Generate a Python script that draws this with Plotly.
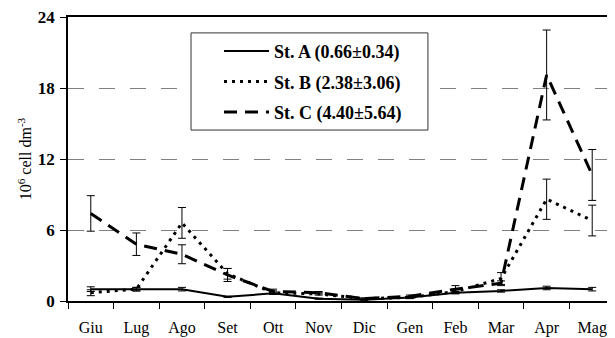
import plotly.graph_objects as go

months = ["Giu", "Lug", "Ago", "Set", "Ott", "Nov", "Dic", "Gen", "Feb", "Mar", "Apr", "Mag"]

st_a = [1.0, 1.0, 1.0, 0.35, 0.65, 0.2, 0.1, 0.3, 0.7, 0.85, 1.1, 1.0]
st_a_err = [0.2, 0.15, 0.15, 0.05, 0.1, 0.05, 0.05, 0.05, 0.1, 0.1, 0.15, 0.15]

st_b = [0.7, 1.0, 6.6, 2.3, 0.7, 0.6, 0.2, 0.3, 0.8, 1.9, 8.6, 6.8]
st_b_err = [0.25, 0.15, 1.3, 0.45, 0.15, 0.1, 0.05, 0.1, 0.15, 0.5, 1.7, 1.3]

st_c = [7.4, 4.8, 3.95, 2.2, 0.8, 0.7, 0.2, 0.4, 1.0, 1.5, 19.1, 10.65]
st_c_err = [1.5, 0.95, 0.8, 0.55, 0.2, 0.1, 0.05, 0.1, 0.3, 0.2, 3.8, 2.15]

names = ["St. A (0.66±0.34)", "St. B (2.38±3.06)", "St. C (4.40±5.64)"]
y_ticks = [0, 6, 12, 18, 24]

FONT = "Liberation Serif"

series = [
    (names[0], st_a, st_a_err, dict(color="black", width=2, dash="solid")),
    (names[1], st_b, st_b_err, dict(color="black", width=3, dash="3px,5px")),
    (names[2], st_c, st_c_err, dict(color="black", width=3, dash="13px,8px")),
]

fig = go.Figure()
for i, (nm, vals, errs, ln) in enumerate(series):
    fig.add_trace(go.Scatter(
        x=months, y=vals, name=nm, mode="lines", line=ln,
        legendgroup=f"g{i}",
        error_y=dict(type="data", array=errs, visible=True, color="black",
                     thickness=1, width=4),
    ))

# legend frame (drawn as a shape so it can be wider than the entries)
fig.add_shape(type="rect", xref="paper", yref="paper",
              x0=0.2249, x1=0.658, y0=0.602, y1=0.944,
              line=dict(color="#333333", width=1), fillcolor="white", layer="above")

# The page body has an 8px default margin, so the figure is sized/offset to compensate.
fig.update_layout(
    width=607, height=330,
    margin=dict(l=60, r=0, t=9, b=37),
    paper_bgcolor="white", plot_bgcolor="white",
    font=dict(family=FONT, color="black"),
    showlegend=True,
    legend=dict(
        x=0.2249, y=0.944, xanchor="left", yanchor="top",
        bgcolor="rgba(0,0,0,0)", borderwidth=0,
        font=dict(family=FONT, size=18, color="black", weight="bold"),
        tracegroupgap=4, traceorder="grouped", indentation=28, itemwidth=45,
    ),
    xaxis=dict(
        type="category", range=[-0.5, 11.5], automargin=False,
        showline=True, linecolor="black", linewidth=1.5, mirror=True,
        ticks="outside", tickson="boundaries", ticklen=6, tickcolor="black",
        tickfont=dict(family=FONT, size=16, color="black"),
        ticklabelstandoff=11, ticklabeloverflow="allow",
        showgrid=False, zeroline=False,
    ),
    yaxis=dict(
        range=[0, 24], tickvals=y_ticks, ticktext=[str(v) for v in y_ticks],
        automargin=False,
        showline=True, linecolor="black", linewidth=1.5,
        ticks="outside", ticklen=6, tickcolor="black",
        tickfont=dict(family=FONT, size=17, color="black", weight="bold"),
        ticklabelstandoff=2, ticklabeloverflow="allow",
        showgrid=True, gridcolor="#808080", gridwidth=1.3, griddash="16px,15px",
        zeroline=False,
        title=dict(text="10<sup>6</sup> cell dm<sup>-3</sup>",
                   font=dict(family=FONT, size=16, color="black"), standoff=2),
    ),
)

fig.write_html("out.html")
